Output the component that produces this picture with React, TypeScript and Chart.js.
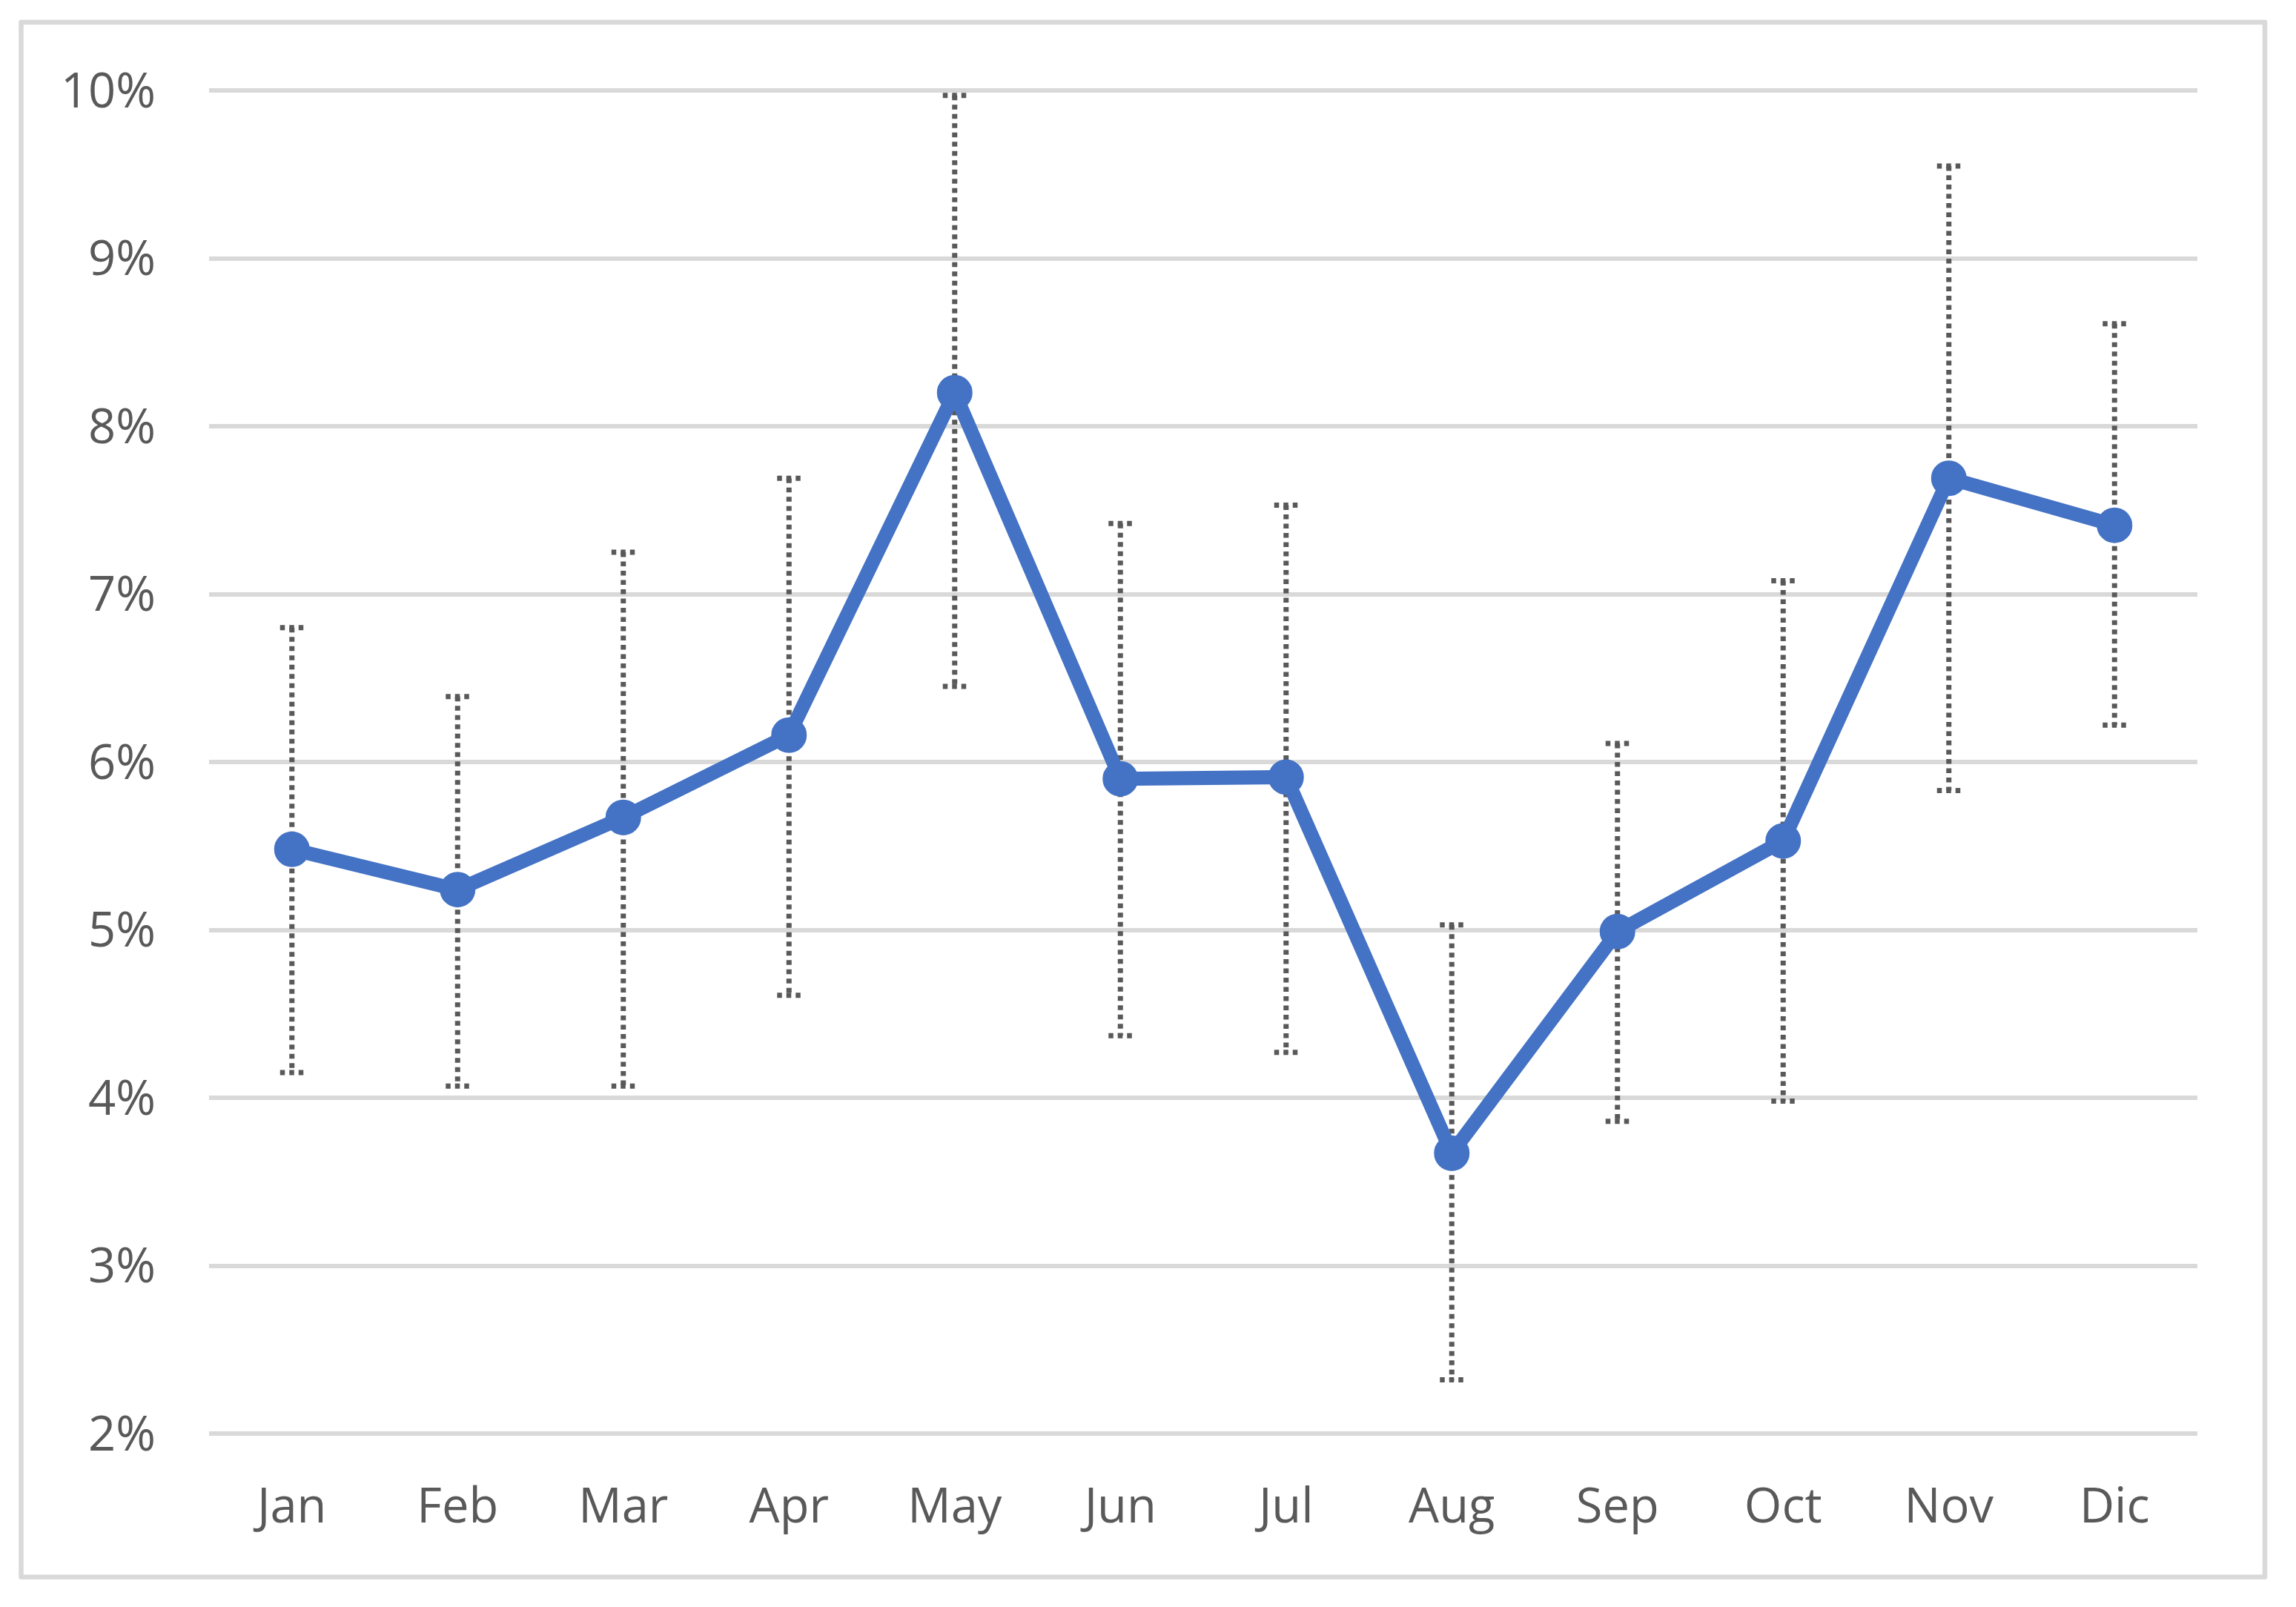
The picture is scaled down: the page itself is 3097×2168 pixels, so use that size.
import React, { useEffect, useRef } from "react";
import { Chart, registerables } from "chart.js";

Chart.register(...registerables);

const months = ["Jan", "Feb", "Mar", "Apr", "May", "Jun", "Jul", "Aug", "Sep", "Oct", "Nov", "Dic"];
const values = [5.48, 5.24, 5.67, 6.16, 8.2, 5.9, 5.91, 3.67, 4.99, 5.53, 7.69, 7.41];
const errHigh = [6.8, 6.39, 7.25, 7.69, 9.97, 7.42, 7.53, 5.03, 6.11, 7.08, 9.55, 8.61];
const errLow = [4.15, 4.07, 4.07, 4.61, 6.45, 4.37, 4.27, 2.32, 3.86, 3.98, 5.83, 6.22];
const yTicks = [2, 3, 4, 5, 6, 7, 8, 9, 10];

const W = 3097;
const H = 2168;

const errorBarPlugin = {
  id: "errorBars",
  beforeDatasetsDraw(chart: any) {
    const ctx = chart.ctx;
    const xs = chart.scales.x;
    const ys = chart.scales.y;
    ctx.save();
    ctx.strokeStyle = "#595959";
    ctx.lineWidth = 7;
    ctx.lineCap = "butt";
    ctx.setLineDash([6.5, 6]);
    for (let i = 0; i < values.length; i++) {
      const x = xs.getPixelForValue(i);
      const yt = ys.getPixelForValue(errHigh[i]);
      const yb = ys.getPixelForValue(errLow[i]);
      ctx.beginPath();
      ctx.moveTo(x, yt);
      ctx.lineTo(x, yb);
      ctx.stroke();
      ctx.beginPath();
      ctx.moveTo(x - 16, yt);
      ctx.lineTo(x + 16, yt);
      ctx.stroke();
      ctx.beginPath();
      ctx.moveTo(x - 16, yb);
      ctx.lineTo(x + 16, yb);
      ctx.stroke();
    }
    ctx.restore();
  },
};

const borderPlugin = {
  id: "frameBorder",
  afterDraw(chart: any) {
    const ctx = chart.ctx;
    ctx.save();
    ctx.strokeStyle = "#d9d9d9";
    ctx.lineWidth = 6.5;
    ctx.lineJoin = "round";
    ctx.strokeRect(28.5, 30, 3055 - 28.5, 2127.5 - 30);
    ctx.restore();
  },
};

export default function App() {
  const ref = useRef<HTMLCanvasElement | null>(null);
  useEffect(() => {
    if (!ref.current) return;
    const chart = new Chart(ref.current, {
      type: "line",
      data: {
        labels: months,
        datasets: [
          {
            data: values,
            borderColor: "#4472C4",
            backgroundColor: "#4472C4",
            borderWidth: 19,
            pointRadius: 22,
            pointBorderWidth: 4,
            pointBackgroundColor: "#4472C4",
            pointBorderColor: "#4472C4",
            tension: 0,
            fill: false,
          },
        ],
      },
      options: {
        responsive: false,
        animation: false,
        devicePixelRatio: 1,
        layout: { padding: { left: 0, right: 133, top: 122, bottom: 0 } },
        plugins: { legend: { display: false }, tooltip: { enabled: false } },
        scales: {
          x: {
            offset: true,
            grid: { display: false, drawTicks: false },
            border: { display: false },
            ticks: {
              color: "#595959",
              font: { family: "'Open Sans'", size: 65 },
              padding: 62,
              maxRotation: 0,
              autoSkip: false,
            },
            afterFit(scale: any) {
              scale.height = 234;
            },
          },
          y: {
            min: 2,
            max: 10,
            afterBuildTicks(scale: any) {
              scale.ticks = yTicks.map((v) => ({ value: v }));
            },
            grid: { color: "#d9d9d9", lineWidth: 6, drawTicks: false },
            border: { display: false },
            ticks: {
              color: "#595959",
              font: { family: "'Open Sans'", size: 65 },
              padding: 72,
              labelOffset: 4,
              callback: (v: any) => `${v}%`,
            },
            afterFit(scale: any) {
              scale.width = 282;
            },
          },
        },
      },
      plugins: [errorBarPlugin, borderPlugin],
    });
    return () => chart.destroy();
  }, []);
  return (
    <div style={{ position: "fixed", left: 0, top: 0, width: W, height: H, background: "#fff" }}>
      <canvas ref={ref} width={W} height={H} style={{ display: "block" }} />
    </div>
  );
}
